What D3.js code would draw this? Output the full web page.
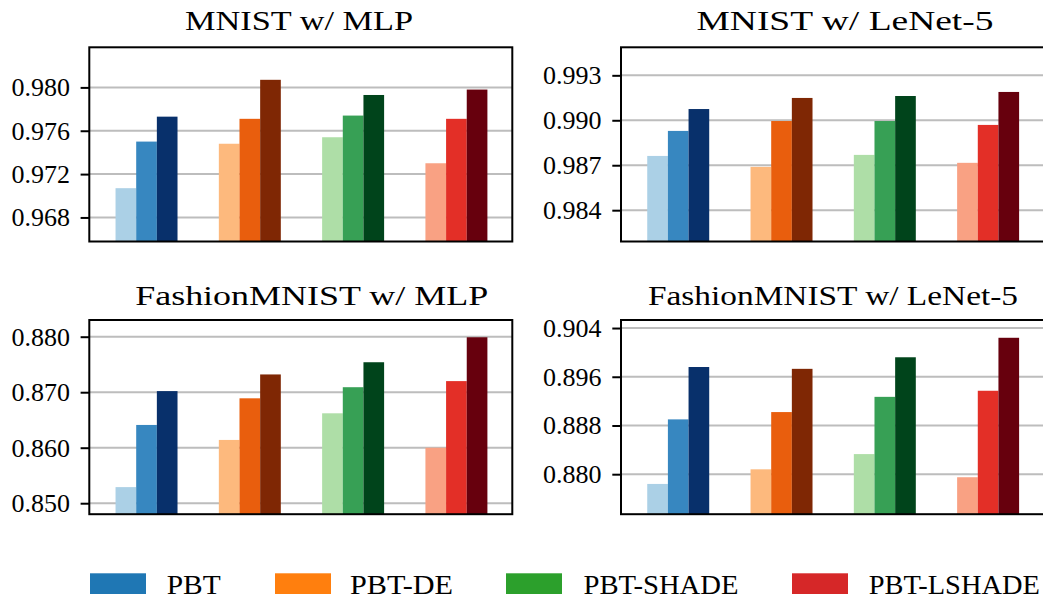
<!DOCTYPE html>
<html>
<head>
<meta charset="utf-8">
<script src="https://cdn.jsdelivr.net/npm/d3@7"></script>
<style>
  html, body { margin: 0; padding: 0; background: #fff; }
  svg text { font-family: 'Liberation Serif', 'Times New Roman', Tinos, FreeSerif, 'DejaVu Serif', serif !important; }
</style>
</head>
<body>
<svg id="fig" width="1043" height="599"></svg>
<script>
// Methods (one colour family each) and the four benchmark panels
const categories = ["PBT", "PBT-DE", "PBT-SHADE", "PBT-LSHADE"];
const panelTitles = ["MNIST w/ MLP", "MNIST w/ LeNet-5", "FashionMNIST w/ MLP", "FashionMNIST w/ LeNet-5"];

// Accuracy per method, three bars each (light, medium, dark shade)
const mnistMlp = [
  [0.9707, 0.9750, 0.9773],
  [0.9748, 0.9771, 0.9807],
  [0.9754, 0.9774, 0.9793],
  [0.9730, 0.9771, 0.9798]
];
const mnistLenet = [
  [0.98762, 0.98929, 0.99075],
  [0.98689, 0.98995, 0.99149],
  [0.98769, 0.98995, 0.99162],
  [0.98716, 0.98969, 0.99189]
];
const fashionMlp = [
  [0.8529, 0.8641, 0.8702],
  [0.8614, 0.8689, 0.8732],
  [0.8662, 0.8709, 0.8754],
  [0.8600, 0.8720, 0.8799]
];
const fashionLenet = [
  [0.8784, 0.8890, 0.8976],
  [0.8808, 0.8902, 0.8973],
  [0.8833, 0.8927, 0.8992],
  [0.8795, 0.8937, 0.9024]
];

// Tick labels per panel
const ticksMnistMlp = [0.968, 0.972, 0.976, 0.980];
const ticksMnistLenet = [0.984, 0.987, 0.990, 0.993];
const ticksFashionMlp = [0.850, 0.860, 0.870, 0.880];
const ticksFashionLenet = [0.880, 0.888, 0.896, 0.904];

// Shade ramps per method (light -> dark) and legend colours
const shades = [
  ["#abd0e6", "#3787c0", "#08306b"],
  ["#fdb97d", "#e95e0d", "#7f2704"],
  ["#aedea7", "#37a055", "#00441b"],
  ["#f9a183", "#e32f27", "#67000d"]
];
const legendColors = ["#1f77b4", "#ff7f0e", "#2ca02c", "#d62728"];

// Layout
const panels = [
  { title: panelTitles[0], data: mnistMlp,     ticks: ticksMnistMlp,     yDomain: [0.96578, 0.98370], x0: 89.3, y0: 47.3, titleX: 299,   titleY: 29.5, titleW: 228 },
  { title: panelTitles[1], data: mnistLenet,   ticks: ticksMnistLenet,   yDomain: [0.98191, 0.99487], x0: 621,  y0: 47.3, titleX: 845,   titleY: 29.5, titleW: 297 },
  { title: panelTitles[2], data: fashionMlp,   ticks: ticksFashionMlp,   yDomain: [0.84802, 0.88301], x0: 89.3, y0: 320,  titleX: 311.7, titleY: 305,  titleW: 353 },
  { title: panelTitles[3], data: fashionLenet, ticks: ticksFashionLenet, yDomain: [0.87343, 0.90532], x0: 621,  y0: 320,  titleX: 833,   titleY: 305,  titleW: 370 }
];
const axW = 423, axH = 194.2;
const barW = 0.2;
const offsets = [-0.2, 0, 0.2];

const svg = d3.select("#fig");

function serif(sel, size) {
  return sel.style("font-size", size + "px").attr("fill", "#000");
}

panels.forEach((p, pi) => {
  const g = svg.append("g").attr("transform", `translate(${p.x0},${p.y0})`);
  const x = d3.scaleLinear().domain([-0.554, 3.541]).range([0, axW]);
  const y = d3.scaleLinear().domain(p.yDomain).range([axH, 0]);

  // horizontal grid
  g.append("g").selectAll("line").data(p.ticks).join("line")
    .attr("x1", 0).attr("x2", axW)
    .attr("y1", d => y(d)).attr("y2", d => y(d))
    .attr("stroke", "#bdbdbd").attr("stroke-width", 2);

  // grouped bars
  const clip = "clip" + pi;
  g.append("clipPath").attr("id", clip).append("rect").attr("width", axW).attr("height", axH);
  const bars = g.append("g").attr("clip-path", `url(#${clip})`);
  p.data.forEach((vals, ci) => {
    bars.selectAll(null).data(vals).join("rect")
      .attr("x", (d, k) => x(ci + offsets[k] - barW / 2))
      .attr("width", (d, k) => x(ci + offsets[k] + barW / 2) - x(ci + offsets[k] - barW / 2))
      .attr("y", d => y(d))
      .attr("height", d => axH - y(d) + 2)
      .attr("fill", (d, k) => shades[ci][k]);
  });

  // y axis
  const ax = g.append("g").call(
    d3.axisLeft(y).tickValues(p.ticks).tickFormat(d3.format(".3f")).tickSize(8.7).tickPadding(10.7)
  );
  ax.attr("font-family", null).attr("font-size", null);
  ax.select(".domain").remove();
  ax.selectAll(".tick line").attr("stroke", "#000").attr("stroke-width", 2);
  serif(ax.selectAll(".tick text"), 26);

  // frame
  g.append("rect").attr("width", axW).attr("height", axH)
    .attr("fill", "none").attr("stroke", "#000").attr("stroke-width", 2);

  // title
  serif(svg.append("text"), 27)
    .attr("x", p.titleX).attr("y", p.titleY)
    .attr("text-anchor", "middle")
    .attr("textLength", p.titleW).attr("lengthAdjust", "spacingAndGlyphs")
    .text(p.title);
});

// legend
const legendPatchX = [90, 275, 506, 792];
const legendTextX = [166.7, 350, 583.5, 868.8];
const legendTextW = [54, 103, 155, 171];
const lg = svg.append("g");
categories.forEach((c, i) => {
  lg.append("rect")
    .attr("x", legendPatchX[i]).attr("y", 573.3)
    .attr("width", 56).attr("height", 20.7)
    .attr("fill", legendColors[i]);
  serif(lg.append("text"), 27)
    .attr("x", legendTextX[i]).attr("y", 593.5)
    .attr("textLength", legendTextW[i]).attr("lengthAdjust", "spacingAndGlyphs")
    .text(c);
});
</script>
</body>
</html>
